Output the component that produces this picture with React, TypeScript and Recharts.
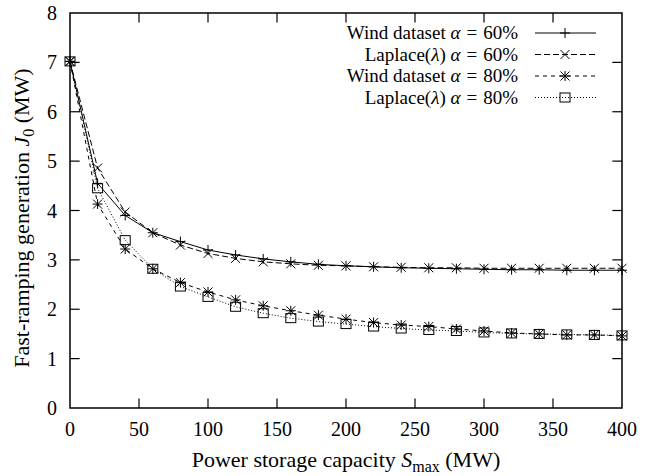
import React from 'react';
import { LineChart, Line, XAxis, YAxis, ReferenceArea, ReferenceLine, Legend } from 'recharts';

const capacity = [0, 20, 40, 60, 80, 100, 120, 140, 160, 180, 200, 220, 240, 260, 280, 300, 320, 340, 360, 380, 400];

const wind60 = [7.02, 4.55, 3.9, 3.55, 3.37, 3.2, 3.1, 3.02, 2.96, 2.91, 2.88, 2.86, 2.84, 2.83, 2.82, 2.81, 2.8, 2.8, 2.79, 2.79, 2.79];
const laplace60 = [7.02, 4.86, 3.97, 3.55, 3.3, 3.13, 3.03, 2.96, 2.92, 2.89, 2.88, 2.86, 2.85, 2.84, 2.84, 2.83, 2.83, 2.83, 2.83, 2.83, 2.83];
const wind80 = [7.02, 4.13, 3.22, 2.82, 2.54, 2.35, 2.19, 2.07, 1.97, 1.88, 1.8, 1.73, 1.68, 1.65, 1.6, 1.56, 1.52, 1.5, 1.48, 1.48, 1.46];
const laplace80 = [7.02, 4.45, 3.4, 2.82, 2.46, 2.25, 2.05, 1.92, 1.82, 1.75, 1.7, 1.65, 1.61, 1.58, 1.56, 1.53, 1.51, 1.5, 1.49, 1.48, 1.47];

const xTicks = [0, 50, 100, 150, 200, 250, 300, 350, 400];
const yTicks = [0, 1, 2, 3, 4, 5, 6, 7, 8];

const FONT = '"Liberation Serif", "DejaVu Serif", serif';

const series = [
  { key: 'w60', name: 'Wind dataset', alpha: '60%', dash: undefined, shape: 'plus' },
  { key: 'l60', name: 'Laplace(', alpha: '60%', dash: '6 3', shape: 'cross' },
  { key: 'w80', name: 'Wind dataset', alpha: '80%', dash: '4 4', shape: 'star' },
  { key: 'l80', name: 'Laplace(', alpha: '80%', dash: '1 2', shape: 'square' },
];

const data = capacity.map((x, i) => ({
  x,
  w60: wind60[i],
  l60: laplace60[i],
  w80: wind80[i],
  l80: laplace80[i],
}));

function Marker({ shape, cx, cy }: { shape: string; cx: number; cy: number }) {
  const r = 5;
  const d = 4.5;
  if (shape === 'plus') {
    return (
      <g stroke="#000" strokeWidth={1}>
        <line x1={cx - r} y1={cy} x2={cx + r} y2={cy} />
        <line x1={cx} y1={cy - r} x2={cx} y2={cy + r} />
      </g>
    );
  }
  if (shape === 'cross') {
    return (
      <g stroke="#000" strokeWidth={1}>
        <line x1={cx - d} y1={cy - d} x2={cx + d} y2={cy + d} />
        <line x1={cx - d} y1={cy + d} x2={cx + d} y2={cy - d} />
      </g>
    );
  }
  if (shape === 'star') {
    return (
      <g stroke="#000" strokeWidth={1}>
        <line x1={cx - r} y1={cy} x2={cx + r} y2={cy} />
        <line x1={cx} y1={cy - r} x2={cx} y2={cy + r} />
        <line x1={cx - d} y1={cy - d} x2={cx + d} y2={cy + d} />
        <line x1={cx - d} y1={cy + d} x2={cx + d} y2={cy - d} />
      </g>
    );
  }
  return <rect x={cx - 5} y={cy - 4.5} width={10} height={9} fill="none" stroke="#000" strokeWidth={1} />;
}

function LegendLabel({ s }: { s: (typeof series)[number] }) {
  return (
    <>
      {s.name}
      {s.name.startsWith('Laplace') ? (
        <>
          <tspan fontStyle="italic">λ</tspan>)
        </>
      ) : null}{' '}
      <tspan fontStyle="italic">α</tspan>
      <tspan dx={6}>=</tspan>
      <tspan dx={6}>{s.alpha}</tspan>
    </>
  );
}

// legend rows sit 21.5px apart, first row at y=33 on the page
function LegendBox() {
  const rows = [13, 34.5, 56, 77.5];
  return (
    <svg width={320} height={92} style={{ display: 'block' }}>
      {series.map((s, i) => (
        <g key={s.key}>
          <text x={218} y={rows[i] + 6} textAnchor="end" fontFamily={FONT} fontSize={19} fill="#000">
            <LegendLabel s={s} />
          </text>
          <line x1={235} y1={rows[i]} x2={296} y2={rows[i]} stroke="#000" strokeWidth={1} strokeDasharray={s.dash} />
          <Marker shape={s.shape} cx={265} cy={rows[i]} />
        </g>
      ))}
    </svg>
  );
}

export default function App() {
  return (
    <div style={{ position: 'absolute', left: 0, top: 0, background: '#fff' }}>
      <LineChart width={655} height={476} data={data} margin={{ top: 13, right: 33, bottom: 38, left: 30 }}>
        <XAxis
          type="number"
          dataKey="x"
          domain={[0, 400]}
          ticks={xTicks}
          axisLine={false}
          tickLine={false}
          tickSize={0}
          tickMargin={14}
          height={30}
          tick={{ fill: '#000', fontFamily: FONT, fontSize: 20 }}
        />
        <YAxis
          type="number"
          domain={[0, 8]}
          ticks={yTicks}
          axisLine={false}
          tickLine={false}
          tickSize={0}
          tickMargin={13}
          width={40}
          tick={{ fill: '#000', fontFamily: FONT, fontSize: 20 }}
        />
        {xTicks.slice(1, -1).map((t) => (
          <ReferenceLine key={'xb' + t} segment={[{ x: t, y: 0 }, { x: t, y: 0.19 }]} stroke="#000" strokeWidth={1.2} />
        ))}
        {xTicks.slice(1, -1).map((t) => (
          <ReferenceLine key={'xt' + t} segment={[{ x: t, y: 8 }, { x: t, y: 7.81 }]} stroke="#000" strokeWidth={1.2} />
        ))}
        {yTicks.slice(1, -1).map((t) => (
          <ReferenceLine key={'yl' + t} segment={[{ x: 0, y: t }, { x: 7, y: t }]} stroke="#000" strokeWidth={1.2} />
        ))}
        {yTicks.slice(1, -1).map((t) => (
          <ReferenceLine key={'yr' + t} segment={[{ x: 400, y: t }, { x: 393, y: t }]} stroke="#000" strokeWidth={1.2} />
        ))}
        <ReferenceArea x1={0} x2={400} y1={0} y2={8} fill="none" stroke="#000" strokeWidth={1.5} />
        {series.map((s) => (
          <Line
            key={s.key}
            type="linear"
            dataKey={s.key}
            stroke="#000"
            strokeWidth={1}
            strokeDasharray={s.dash}
            isAnimationActive={false}
            dot={(p: any) => <Marker key={s.key + p.index} shape={s.shape} cx={p.cx} cy={p.cy} />}
            activeDot={false}
          />
        ))}
        <Legend
          layout="vertical"
          align="center"
          verticalAlign="middle"
          wrapperStyle={{ left: 300, top: 20, width: 320, height: 92 }}
          content={() => <LegendBox />}
        />
        <text x={346} y={467} textAnchor="middle" fontFamily={FONT} fontSize={22} fill="#000">
          Power storage capacity <tspan fontStyle="italic">S</tspan>
          <tspan dy={5} fontSize={16}>max</tspan>
          <tspan dy={-5}> (MW)</tspan>
        </text>
        <text
          transform="translate(29, 218) rotate(-90)"
          textAnchor="middle"
          fontFamily={FONT}
          fontSize={22}
          fill="#000"
        >
          Fast-ramping generation <tspan fontStyle="italic">J</tspan>
          <tspan dy={5} fontSize={16}>0</tspan>
          <tspan dy={-5}> (MW)</tspan>
        </text>
      </LineChart>
    </div>
  );
}
